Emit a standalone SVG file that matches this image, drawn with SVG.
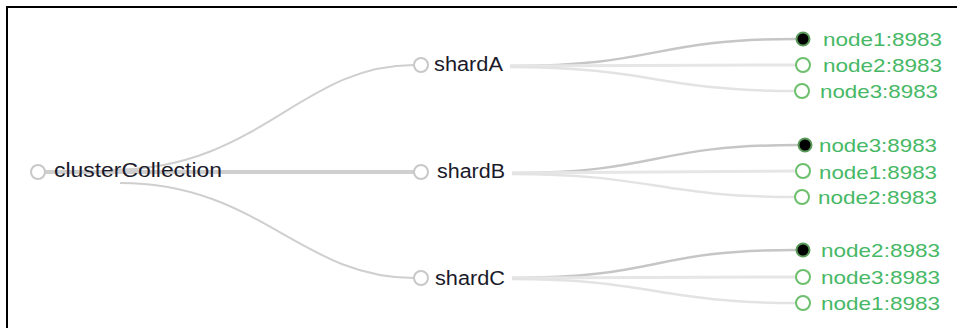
<svg xmlns="http://www.w3.org/2000/svg" width="957" height="328" viewBox="0 0 957 328">
<style>
.frame{fill:#fff;stroke:#000;stroke-width:2}
.lk{fill:none;stroke:#cfcfcf;stroke-width:2}
.lk2{fill:none;stroke:#c6c6c6;stroke-width:2.5}
.lk3{fill:none;stroke:#e6e6e6;stroke-width:3}
.lk4{fill:none;stroke:#e3e3e3;stroke-width:2.5}
.nc{fill:#fff;stroke:#c8c8c8;stroke-width:2}
.lc{fill:#fff;stroke:#6cbf6c;stroke-width:2}
.lf{fill:#000;stroke:#5a9a5a;stroke-width:2}
.t{font-family:"Liberation Sans",Arial,sans-serif;font-size:20px;fill:#1a1a2a}
.g{font-family:"Liberation Sans",Arial,sans-serif;font-size:19px;fill:#47b866}
</style>
<rect class="frame" x="7" y="7" width="960" height="340"/>
<g id="connectors">
<path class="lk" d="M110,170 C260,170 300,65 414,65"/>
<path class="lk" d="M45,172 L414,172" style="stroke-width:4"/>
<path class="lk" d="M120,183 C260,183 300,278 414,278"/>
<path class="lk2" d="M510,66 C660,66 650,39 796,39"/>
<path class="lk3" d="M510,66 L796,65"/>
<path class="lk4" d="M510,67 C650,67 660,91 795,91"/>
<path class="lk2" d="M512,173 C660,173 650,145 798,145"/>
<path class="lk3" d="M512,173 L796,171"/>
<path class="lk4" d="M512,174 C650,174 660,197 795,197"/>
<path class="lk2" d="M512,278 C660,278 650,250 796,250"/>
<path class="lk3" d="M512,278 L796,277"/>
<path class="lk4" d="M512,279 C650,279 660,303 796,303"/>
</g>
<g id="clusterCollection"><circle class="nc" cx="38" cy="172" r="7"/><text class="t" x="54" y="177" textLength="168" lengthAdjust="spacingAndGlyphs">clusterCollection</text></g>
<g id="shardA"><circle class="nc" cx="421" cy="65" r="7"/><text class="t" x="434" y="71" textLength="69" lengthAdjust="spacingAndGlyphs">shardA</text></g>
<g id="shardB"><circle class="nc" cx="421" cy="172" r="7"/><text class="t" x="437" y="178" textLength="68" lengthAdjust="spacingAndGlyphs">shardB</text></g>
<g id="shardC"><circle class="nc" cx="421" cy="278" r="7"/><text class="t" x="435" y="285" textLength="70" lengthAdjust="spacingAndGlyphs">shardC</text></g>
<g id="A-node1"><circle class="lf" cx="803" cy="39" r="6.5"/><text class="g" x="823" y="46" textLength="119" lengthAdjust="spacingAndGlyphs">node1:8983</text></g>
<g id="A-node2"><circle class="lc" cx="803" cy="65" r="7"/><text class="g" x="823" y="72" textLength="119" lengthAdjust="spacingAndGlyphs">node2:8983</text></g>
<g id="A-node3"><circle class="lc" cx="802" cy="91" r="7"/><text class="g" x="820" y="98" textLength="118" lengthAdjust="spacingAndGlyphs">node3:8983</text></g>
<g id="B-node3"><circle class="lf" cx="805" cy="145" r="6.5"/><text class="g" x="819" y="152" textLength="118" lengthAdjust="spacingAndGlyphs">node3:8983</text></g>
<g id="B-node1"><circle class="lc" cx="803" cy="171" r="7"/><text class="g" x="819" y="179" textLength="118" lengthAdjust="spacingAndGlyphs">node1:8983</text></g>
<g id="B-node2"><circle class="lc" cx="802" cy="197" r="7"/><text class="g" x="818" y="204" textLength="119" lengthAdjust="spacingAndGlyphs">node2:8983</text></g>
<g id="C-node2"><circle class="lf" cx="803" cy="250" r="6.5"/><text class="g" x="821" y="257" textLength="119" lengthAdjust="spacingAndGlyphs">node2:8983</text></g>
<g id="C-node3"><circle class="lc" cx="803" cy="277" r="7"/><text class="g" x="821" y="284" textLength="119" lengthAdjust="spacingAndGlyphs">node3:8983</text></g>
<g id="C-node1"><circle class="lc" cx="803" cy="303" r="7"/><text class="g" x="821" y="310" textLength="119" lengthAdjust="spacingAndGlyphs">node1:8983</text></g>
</svg>
